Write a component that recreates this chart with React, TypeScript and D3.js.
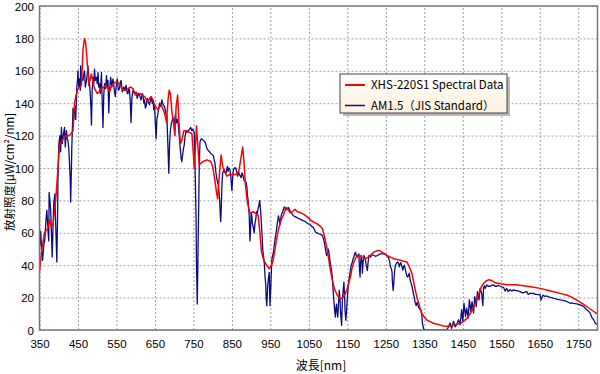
import React, { useEffect, useRef } from 'react';
import * as d3 from 'd3';

// XHS-220S1 spectral data (red)
const redWl = [350,356,363,370,376,380,385,390,394,398,402,406,411,420,428,434,437,441,445,450,455,459,463,467,470,473,478,482,485,489,493,500,505,510,517,523,528,532,536,541,548,554,560,567,573,580,587,593,599,605,610,617,623,628,632,636,640,645,649,654,658,662,666,670,675,680,684,687,690,694,698,702,705,709,712,716,720,725,732,740,746,750,752,755,758,761,765,770,775,785,795,800,806,810,813,817,822,826,830,837,845,855,863,868,872,876,878,881,885,890,897,905,912,918,922,927,933,940,947,953,958,962,966,972,978,984,988,992,997,1001,1007,1014,1020,1028,1036,1045,1054,1063,1072,1080,1085,1089,1093,1098,1102,1106,1111,1117,1124,1132,1138,1145,1150,1158,1162,1167,1173,1180,1188,1197,1204,1210,1218,1228,1234,1240,1247,1253,1262,1271,1280,1288,1296,1305,1311,1318,1322,1327,1331,1336,1340,1344,1350,1357,1366,1375,1384,1392,1400,1409,1418,1426,1434,1442,1450,1460,1469,1478,1486,1492,1499,1505,1512,1518,1525,1532,1538,1550,1564,1577,1590,1603,1616,1630,1651,1668,1686,1703,1720,1733,1746,1760,1772,1784,1794,1800];
const redVal = [36,50,60,62,68,64,65,75,86,100,114,116,118,120,120,122,123,140,145,149,150,151,173,180,177,169,151,155,158,153,149,146,147,149,150,151,149,147,150,152,153,153,151,148,148,149,150,149,145,146,146,145,144,142,141,143,144,142,139,137,136,138,139,137,134,128,142,148,146,135,128,120,138,145,130,115,117,123,123,122,121,108,100,112,126,115,102,103,104,105,104,101,92,85,81,95,108,101,98,95,96,96,96,98,104,110,113,105,90,79,72,73,72,71,62,48,43,40,38,40,44,50,56,63,68,71,74,75.5,74,72.5,73,74.5,73,72.5,71.5,70,68,66.5,65.5,64,62.5,59,55,49,43,37,30.6,25,21.3,19.3,20,22.4,26,32.7,38,42,45,46,45,44,45,46,48,49,49,48,47,46,45,44,43.5,43,42.5,42,39,34.7,30,24,20,16,12.5,10,8,6,5,4,3.5,3,2.5,2.3,2.5,3,3.5,4,5,7,10,14,18.5,22.5,27,29,30.5,31,30.5,29.5,29,28.5,28,28,28,27.5,27,26.5,25.7,24.7,23.6,22.6,21.6,20.3,18.5,16.5,14.5,12.5,10.8,10];

// AM1.5 (JIS standard) (navy)
const blueWl = [350,353,356,358,361,364,366,369,372,374,375,377,379,381,383,385,387,390,392,394,395,397,398,400,403,405,407,409,411,413,415,417,420,422,424,426,428,430,431,433,434,436,437,439,441,443,444,446,447,449,450,452,454,456,457,460,463,465,467,469,472,474,476,478,480,482,484,485,487,489,491,493,495,498,500,502,504,506,508,511,513,515,517,519,522,524,526,528,530,532,535,538,541,544,547,549,552,555,558,560,562,565,569,572,575,578,580,582,584,586,588,590,593,597,601,604,607,610,614,617,619,621,623,625,627,630,632,636,640,643,645,647,649,651,653,655,658,660,662,665,668,671,675,678,681,683,686,688,690,693,697,700,703,706,708,711,713,715,718,720,722,724,726,728,731,734,737,740,743,746,748,750,752,754,756,757,758,760,762,764,765,767,770,772,776,780,783,785,788,792,795,798,802,804,806,808,811,813,815,818,820,821,823,824,826,828,830,833,835,838,840,842,845,847,850,852,854,857,860,863,865,867,869,872,874,876,878,880,882,885,887,889,890,892,895,896,897,899,900,902,903,905,908,910,912,914,916,918,920,922,923,925,927,929,930,932,934,936,938,939,940.5,942,943,945,947,948,949,951,952,954,956,958,960,962,964,966,968,971,973,975,977,979,982,984,986,988,990,992,995,997,1000,1003,1007,1010,1014,1018,1022,1027,1031,1036,1040,1044,1048,1053,1057,1061,1064,1067,1071,1076,1080,1085,1087,1089,1091,1093,1096,1098,1100,1102,1104,1106,1108,1111,1112,1113,1115,1117,1118,1119,1120,1122,1123,1125,1127,1129,1131,1132,1134,1135,1136,1137,1139,1141,1143,1144,1146,1148,1150,1152,1154,1156,1158,1160,1163,1165,1167,1169,1171,1173,1176,1178,1180,1181,1183,1184,1186,1188,1189,1191,1193,1195,1197,1199,1202,1204,1206,1208,1210,1214,1219,1223,1228,1232,1236,1240,1245,1249,1253,1256,1258,1260,1262,1264,1266,1267,1269,1271,1273,1275,1277,1279,1281,1283,1285,1288,1290,1292,1294,1296,1298,1300,1303,1305,1307,1309,1311,1313,1316,1318,1320,1322,1324,1326,1329,1331,1333,1335,1338,1340,1342,1344,1345,1347,1349,1380,1408,1413,1417,1421,1426,1430,1434,1439,1443,1447,1450,1453,1457,1460,1464,1467,1471,1474,1478,1481,1485,1488,1492,1495,1499,1502,1504,1506,1508,1512,1516,1521,1525,1530,1534,1538,1543,1547,1552,1556,1560,1564,1568,1573,1577,1581,1586,1590,1595,1599,1604,1608,1612,1616,1620,1625,1630,1634,1638,1642,1647,1651,1653,1655,1658,1660,1664,1668,1673,1677,1681,1686,1690,1694,1699,1703,1708,1712,1716,1720,1725,1729,1733,1738,1742,1746,1751,1755,1760,1764,1768,1772,1777,1781,1785,1788,1790,1794,1798];
const blueVal = [50,61,48,43,52,56,65,74,62,55,85,80,74,60,45,62,78,84,66,50,42,70,93,114,120,110,125,115,119,122,125,113,123,118,117,112,103,92,79,100,113,128,137,130,136,138,130,142,150,155,160,150,155,148,163,155,154,158,160,150,154,158,163,156,152,145,135,126.5,148,156,152,161,154,156,152,159,150,152,146,159,140,125,145,152,149,157,150,154,134,148,156,150,155,149,144,150,155,148,149,153,154,147,150,148,151,146,146,149,148,140,128,143,148,146,147,143,146,145,142,146,145,140,142,137,138,143,141,139,144,140,142,136,138,128,118,130,134,137,140,138,142,139,138,134,132,118,96.7,115,123,128,131,127,133,128,130,126,120,114,106,104,108,112,114,119,123,122,123,124,125,123,124,123,122,103,80,68,40,16,50,81,100,116,118,118,117,116,114,112,111,110,109,108.5,107.5,105,103,98,93,91,89,81,70,67,80,89,97,98,99,97,97,101,98,100,99,95,86,94,99,100,100,97,95,98,96,95,94,97,96,94,92,92,91,88,84,80,70.5,62,55,65,72.5,70,66,64,60,66,68.5,73,71.5,75,76.7,80,78,72,64,56,50,46,41.7,33,27.6,20,15,22,27.6,32,35.5,25,15,26,33.5,44,46,48,52,56,59,62,66,70.5,68,65,69,71.5,73,74.6,76,75.6,74,74.6,75,75.6,74,72.5,71.5,70.5,70,69.5,69,68.4,68,67.4,67,66.4,65.5,65.3,64,63.5,62,60.5,60,59.4,59,58.4,57,55.3,53,50,46,47,50,48,44,41,38,32.7,28,24.4,18,12,10,8,13,16,12,8,16,24.4,18,12,6,2.8,10,18,24,29.6,20,12,6,12,20,26,30.6,34,36.8,40,42,44,45,47,48,46,45,46.5,47,40,32.7,40,46,42,35,42,46,45,43,40,36.8,42,46,45.5,45,46.5,46,45.5,46,46.5,47,47,47,46.5,46,45,44,42,39,38,36,30,24.4,30,37,40,41,41.5,42,41,39,41.5,41,39,37,39,40,38,35,33,32.7,34,35,31,28.5,27,24.4,22,20,17,15,17,16,14,13,12.5,12,8,4,2,0,0,0,2,4.3,1,5.3,2,3.3,6.3,3.3,12.5,5.3,16.5,8.4,13.5,7.4,18.6,11.5,17.5,10.5,20.6,14.5,23.7,18.6,25.7,22.7,15,26,27.2,25.7,27.8,27,27,27.5,27.8,27,27,27.5,27,26.5,26.3,24,25.7,23.7,25,24,24.7,24.5,24.3,24,23.7,23,23,23.5,23.7,22,22.7,22.5,22.7,22,22,21.8,21.6,18.5,19.6,21.5,21.2,20.8,21,20.5,20.2,20,19.6,19.3,19,18.8,18.6,18.4,18.2,18,17.6,17,16.5,16.8,16.5,16.3,16.1,15.8,15.5,15,14.5,13.5,12.5,11.5,10.4,8,7,6.3,4.3,3.3];

const xTicks = [350,450,550,650,750,850,950,1050,1150,1250,1350,1450,1550,1650,1750];
const yTicks = [0,20,40,60,80,100,120,140,160,180,200];
const seriesNames = ['XHS-220S1 Spectral Data', 'AM1.5\uFF08JIS Standard\uFF09'];
const seriesColors = ['#ff0000', '#0c0c80'];

const W = 600, H = 374;
const m = { left: 39.5, right: 2.5, top: 6, bottom: 44 };
const FONT = '"Noto Sans CJK JP", "Noto Sans", sans-serif';
const NUMFONT = '"Liberation Sans", Arial, sans-serif';

function Chart() {
  const ref = useRef<SVGSVGElement>(null);

  useEffect(() => {
    const svg = d3.select(ref.current);
    svg.selectAll('*').remove();

    const pw = W - m.left - m.right;
    const ph = H - m.top - m.bottom;
    const x = d3.scaleLinear().domain([350, 1800]).range([m.left, m.left + pw]);
    const y = d3.scaleLinear().domain([0, 200]).range([m.top + ph, m.top]);

    svg.append('rect').attr('width', W).attr('height', H).attr('fill', '#fff');

    // grid + tick labels
    const gx = svg.append('g')
      .attr('transform', `translate(0,${m.top + ph})`)
      .call(d3.axisBottom(x).tickValues(xTicks).tickSize(-ph).tickPadding(10).tickFormat(d3.format('d')));
    gx.select('.domain').remove();
    gx.selectAll('line').attr('stroke', '#a0a0a0').attr('stroke-dasharray', '2,2');
    gx.selectAll('text').attr('font-family', NUMFONT).attr('font-size', 11.5).attr('fill', '#000');

    const gy = svg.append('g')
      .attr('transform', `translate(${m.left},0)`)
      .call(d3.axisLeft(y).tickValues(yTicks).tickSize(-pw).tickPadding(5.5));
    gy.select('.domain').remove();
    gy.selectAll('line').attr('stroke', '#a0a0a0').attr('stroke-dasharray', '2,2');
    gy.selectAll('text').attr('font-family', NUMFONT).attr('font-size', 11.5).attr('fill', '#000')
      .attr('dy', '0.36em');

    svg.append('clipPath').attr('id', 'pclip')
      .append('rect').attr('x', m.left).attr('y', m.top).attr('width', pw).attr('height', ph);

    const line = d3.line<[number, number]>().x(d => x(d[0])).y(d => y(d[1]));
    const blue = blueWl.map((w, i) => [w, blueVal[i]] as [number, number]);
    const red = redWl.map((w, i) => [w, redVal[i]] as [number, number]);

    const plot = svg.append('g').attr('clip-path', 'url(#pclip)');
    plot.append('path').attr('d', line(blue)).attr('fill', 'none')
      .attr('stroke', seriesColors[1]).attr('stroke-width', 1.3).attr('stroke-linejoin', 'round');
    plot.append('path').attr('d', line(red)).attr('fill', 'none')
      .attr('stroke', seriesColors[0]).attr('stroke-width', 1.5).attr('stroke-linejoin', 'round');

    // frame
    svg.append('rect').attr('x', m.left).attr('y', m.top).attr('width', pw).attr('height', ph)
      .attr('fill', 'none').attr('stroke', '#777').attr('stroke-width', 1.5);

    // axis titles
    svg.append('text').attr('x', 321).attr('y', 370)
      .attr('text-anchor', 'middle').attr('font-family', FONT).attr('font-size', 12)
      .text('波長[nm]');
    svg.append('text').attr('transform', 'translate(13.5,172) rotate(-90)')
      .attr('text-anchor', 'middle').attr('font-family', FONT).attr('font-size', 11.5)
      .text('放射照度[μW/cm²/nm]');

    // legend
    const defs = svg.append('defs');
    const grad = defs.append('linearGradient').attr('id', 'lg').attr('x1', 0).attr('y1', 0).attr('x2', 0).attr('y2', 1);
    grad.append('stop').attr('offset', 0).attr('stop-color', '#fffefb');
    grad.append('stop').attr('offset', 1).attr('stop-color', '#fdf1de');
    const lg = svg.append('g').attr('transform', 'translate(340,74)');
    lg.append('rect').attr('x', 3).attr('y', 3).attr('width', 167).attr('height', 39).attr('fill', '#b8b8b8');
    lg.append('rect').attr('width', 167).attr('height', 39).attr('fill', 'url(#lg)')
      .attr('stroke', '#444').attr('stroke-width', 1);
    seriesNames.forEach((name, i) => {
      const yy = 11 + i * 20.5;
      lg.append('line').attr('x1', 5).attr('x2', 25).attr('y1', yy).attr('y2', yy)
        .attr('stroke', seriesColors[i]).attr('stroke-width', i === 0 ? 2 : 1.5);
      lg.append('text').attr('x', 31).attr('y', yy + 4).attr('font-family', FONT).attr('font-size', 11.5)
        .text(name);
    });
  }, []);

  return <svg ref={ref} width={W} height={H} style={{ position: 'absolute', left: 0, top: 0 }} />;
}

export default function App() {
  return <Chart />;
}
